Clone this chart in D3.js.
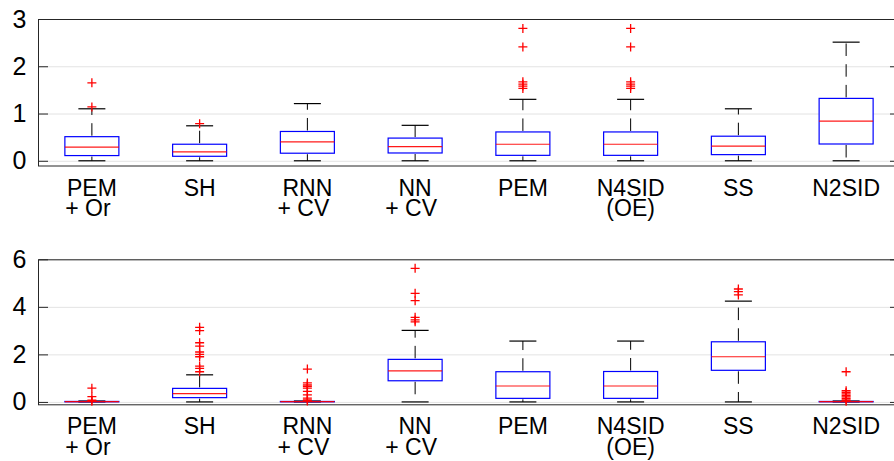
<!DOCTYPE html>
<html>
<head>
<meta charset="utf-8">
<script src="https://cdn.jsdelivr.net/npm/d3@7"></script>
<style>
  html, body { margin: 0; padding: 0; background: #fff; }
  svg { display: block; }
  text { font-family: "Liberation Sans", Arial, Helvetica, sans-serif; fill: #000; }
</style>
</head>
<body>
<svg id="chart" width="894" height="461"></svg>
<script>
// Method names (two-line tick labels)
const labelLine1 = ["PEM", "SH", "RNN", "NN", "PEM", "N4SID", "SS", "N2SID"];
const labelLine2 = ["+ Or", "", "+ CV", "+ CV", "", "(OE)", "", ""];

// Upper panel: box statistics per method
const topTicks = [0, 1, 2, 3];
const topWhiskerLo = [0, 0, 0, 0, 0, 0, 0, 0];
const topQ1 = [0.11, 0.095, 0.16, 0.165, 0.115, 0.115, 0.13, 0.355];
const topMedian = [0.29, 0.19, 0.40, 0.30, 0.35, 0.35, 0.31, 0.84];
const topQ3 = [0.51, 0.35, 0.62, 0.48, 0.61, 0.61, 0.52, 1.32];
const topWhiskerHi = [1.10, 0.74, 1.21, 0.75, 1.30, 1.30, 1.10, 2.51];
const topOutliers = [
  [1.14, 1.65],
  [0.785],
  [],
  [],
  [1.53, 1.58, 1.62, 1.67, 2.41, 2.80],
  [1.53, 1.58, 1.62, 1.67, 2.41, 2.80],
  [],
  []
];

// Lower panel: box statistics per method
const bottomTicks = [0, 2, 4, 6];
const bottomWhiskerLo = [0, 0, 0, 0, 0, 0, 0, 0];
const bottomQ1 = [0.004, 0.18, 0.004, 0.89, 0.15, 0.15, 1.33, 0.004];
const bottomMedian = [0.01, 0.35, 0.01, 1.31, 0.67, 0.67, 1.90, 0.01];
const bottomQ3 = [0.02, 0.57, 0.02, 1.79, 1.27, 1.28, 2.53, 0.02];
const bottomWhiskerHi = [0.04, 1.14, 0.04, 3.01, 2.56, 2.56, 4.24, 0.04];
const bottomOutliers = [
  [0.03, 0.07, 0.22, 0.58],
  [1.27, 1.41, 1.51, 1.90, 2.00, 2.10, 2.35, 2.49, 3.00, 3.14],
  [0.04, 0.08, 0.16, 0.30, 0.44, 0.58, 0.66, 0.72, 0.80, 1.38],
  [3.37, 3.45, 3.56, 4.26, 4.57, 5.62],
  [],
  [],
  [4.50, 4.64, 4.75],
  [0.03, 0.08, 0.15, 0.21, 0.27, 0.34, 0.40, 0.47, 1.27]
];

const svg = d3.select("#chart");
const plotLeft = 38, plotRight = 900;
const x = d3.scaleLinear().domain([0.5, labelLine1.length + 0.5]).range([plotLeft, plotRight]);

const boxHalf = 27, capHalf = 13.5;
const axisColor = "#262626";

function drawPanel(top, bottom, domain, ticks, stats) {
  const y = d3.scaleLinear().domain(domain).range([bottom, top]);
  const g = svg.append("g");
  const width = plotRight - plotLeft;

  // horizontal grid
  g.append("g")
    .attr("transform", `translate(${plotLeft},0)`)
    .call(d3.axisLeft(y).tickValues(ticks).tickSize(-width).tickFormat(""))
    .call(s => s.select(".domain").remove())
    .call(s => s.selectAll("line").attr("stroke", "#e3e3e3").attr("stroke-width", 1));

  // left axis with inward ticks and labels
  g.append("g")
    .attr("transform", `translate(${plotLeft + 0.5},0)`)
    .call(d3.axisLeft(y).tickValues(ticks).tickSizeInner(-9.5).tickSizeOuter(0).tickPadding(12).tickFormat(d3.format("d")))
    .call(s => s.select(".domain").remove())
    .call(s => s.selectAll("line").attr("stroke", axisColor))
    .call(s => s.selectAll("text")
      .attr("font-size", 25)
      .attr("font-family", "'Liberation Sans', Arial, sans-serif")
      .attr("fill", "#000"));

  // right axis ticks
  g.append("g")
    .attr("transform", `translate(${plotRight - 0.5},0)`)
    .call(d3.axisRight(y).tickValues(ticks).tickSizeInner(-9.5).tickSizeOuter(0).tickFormat(""))
    .call(s => s.select(".domain").remove())
    .call(s => s.selectAll("line").attr("stroke", axisColor));

  // frame
  g.append("rect")
    .attr("x", plotLeft + 0.5).attr("y", top + 0.5)
    .attr("width", width - 1).attr("height", bottom - top)
    .attr("fill", "none").attr("stroke", axisColor).attr("stroke-width", 1);

  const items = labelLine1.map((_, i) => ({
    cx: x(i + 1),
    lo: stats.lo[i], q1: stats.q1[i], med: stats.med[i], q3: stats.q3[i], hi: stats.hi[i],
    out: stats.out[i]
  }));

  const boxes = g.selectAll("g.box").data(items).join("g").attr("class", "box");

  // dashed whiskers, drawn outward from the box
  boxes.append("line")
    .attr("x1", d => d.cx).attr("x2", d => d.cx)
    .attr("y1", d => y(d.q3) - 1).attr("y2", d => y(d.hi))
    .attr("stroke", "#000").attr("stroke-width", 1).attr("stroke-dasharray", "12.5,8.2");
  boxes.append("line")
    .attr("x1", d => d.cx).attr("x2", d => d.cx)
    .attr("y1", d => y(d.q1) + 1).attr("y2", d => y(d.lo))
    .attr("stroke", "#000").attr("stroke-width", 1).attr("stroke-dasharray", "12.5,8.2");

  // whisker caps
  boxes.append("line")
    .attr("x1", d => d.cx - capHalf).attr("x2", d => d.cx + capHalf)
    .attr("y1", d => y(d.hi)).attr("y2", d => y(d.hi))
    .attr("stroke", "#000").attr("stroke-width", 1.2);
  boxes.append("line")
    .attr("x1", d => d.cx - capHalf).attr("x2", d => d.cx + capHalf)
    .attr("y1", d => y(d.lo)).attr("y2", d => y(d.lo))
    .attr("stroke", "#000").attr("stroke-width", 1.2);

  // box
  boxes.append("rect")
    .attr("x", d => d.cx - boxHalf).attr("width", boxHalf * 2)
    .attr("y", d => y(d.q3)).attr("height", d => Math.max(0, y(d.q1) - y(d.q3)))
    .attr("fill", "#fff").attr("stroke", "#0000ff").attr("stroke-width", 1.2);

  // median
  boxes.append("line")
    .attr("x1", d => d.cx - boxHalf).attr("x2", d => d.cx + boxHalf)
    .attr("y1", d => y(d.med)).attr("y2", d => y(d.med))
    .attr("stroke", "#ff0000").attr("stroke-width", 1.2).attr("stroke-opacity", 0.9);

  // outliers
  boxes.selectAll("path.out").data(d => d.out.map(v => ({ cx: d.cx, v })))
    .join("path").attr("class", "out")
    .attr("transform", d => `translate(${d.cx},${y(d.v)})`)
    .attr("d", "M-4.5,0H4.5M0,-4.5V4.5")
    .attr("fill", "none").attr("stroke", "#ff0000").attr("stroke-width", 1.3);

  // category labels
  const lab = g.selectAll("text.cat").data(items).join("text").attr("class", "cat")
    .attr("text-anchor", "middle").attr("font-size", 23);
  lab.append("tspan").attr("x", d => d.cx).attr("y", bottom + 30).text((d, i) => labelLine1[i]);
  lab.append("tspan")
    .attr("x", (d, i) => d.cx - (labelLine2[i].startsWith("+") ? 4 : 0))
    .attr("y", bottom + 50.3).text((d, i) => labelLine2[i]);

  return y;
}

drawPanel(19, 165.5, [-0.1, 3], topTicks, {
  lo: topWhiskerLo, q1: topQ1, med: topMedian, q3: topQ3, hi: topWhiskerHi, out: topOutliers
});
drawPanel(259.3, 404.3, [-0.1, 6], bottomTicks, {
  lo: bottomWhiskerLo, q1: bottomQ1, med: bottomMedian, q3: bottomQ3, hi: bottomWhiskerHi, out: bottomOutliers
});
</script>
</body>
</html>
